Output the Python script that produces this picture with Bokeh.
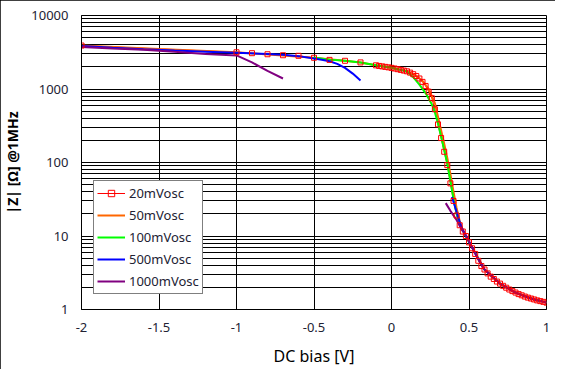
from bokeh.plotting import figure
from bokeh.models import FixedTicker, NumeralTickFormatter, InlineStyleSheet
from bokeh.embed import file_html
from bokeh.resources import INLINE
import numpy as np

# ---- data ----
x_ticks = [-2, -1.5, -1, -0.5, 0, 0.5, 1]
x_tick_labels = ["-2", "-1.5", "-1", "-0.5", "0", "0.5", "1"]
y_ticks = [1, 10, 100, 1000, 10000]
y_tick_labels = ["1", "10", "100", "1000", "10000"]

series_names = ["20mVosc", "50mVosc", "100mVosc", "500mVosc", "1000mVosc"]

v20_x = [-2.0, -1.0, -0.9, -0.8, -0.7, -0.6, -0.5, -0.4, -0.3, -0.2, -0.1,
         -0.08, -0.06, -0.04, -0.02, 0.00, 0.02, 0.04, 0.06, 0.08, 0.10,
         0.12, 0.14, 0.16, 0.18, 0.20, 0.22, 0.24, 0.26, 0.28, 0.30,
         0.32, 0.34, 0.36, 0.38, 0.40, 0.42, 0.44, 0.46, 0.48, 0.50,
         0.52, 0.54, 0.56, 0.58, 0.60, 0.62, 0.64, 0.66, 0.68, 0.70,
         0.72, 0.74, 0.76, 0.78, 0.80, 0.82, 0.84, 0.86, 0.88, 0.90,
         0.92, 0.94, 0.96, 0.98, 1.00]
v20_z = [3900, 3160, 3070, 2970, 2880, 2830, 2660, 2490, 2420, 2300, 2100,
         2060, 2030, 2000, 1970, 1940, 1900, 1860, 1820, 1780, 1740,
         1670, 1590, 1500, 1390, 1250, 1100, 920, 750, 530, 330,
         215, 140, 92, 52, 30, 19, 14, 11.5, 10, 8.2,
         6.8, 5.7, 4.6, 3.9, 3.5, 3.1, 2.8, 2.6, 2.4, 2.25,
         2.1, 1.98, 1.87, 1.78, 1.7, 1.62, 1.56, 1.5, 1.45, 1.41,
         1.37, 1.33, 1.3, 1.27, 1.24]

v50_x = [-2.0, -1.5, -1.0, -0.5, -0.3, -0.2, -0.1, 0.0, 0.1, 0.15, 0.2, 0.24,
         0.28, 0.3, 0.32, 0.34, 0.36, 0.38, 0.4, 0.42, 0.44, 0.46, 0.5, 0.55,
         0.6, 0.7, 0.8, 0.9, 1.0]
v50_z = [3900, 3500, 3160, 2660, 2420, 2300, 2100, 1950, 1750, 1560, 1290, 1000,
         640, 420, 275, 180, 115, 70, 40, 24, 16, 12, 8.4, 5.4,
         3.5, 2.25, 1.7, 1.41, 1.24]

v100_x = [-0.5, -0.4, -0.3, -0.2, -0.1, 0.0, 0.1, 0.14, 0.18, 0.22, 0.26, 0.28,
          0.3, 0.32, 0.34, 0.36, 0.38, 0.4, 0.42, 0.45, 0.5, 0.6, 0.7, 0.8, 0.9, 1.0]
v100_z = [2680, 2510, 2420, 2300, 2110, 1940, 1730, 1450, 1150, 880, 620, 480,
          340, 225, 148, 96, 56, 32, 20, 13, 8.3, 3.5, 2.25, 1.7, 1.41, 1.24]

v500_x = [-2.0, -1.8, -1.6, -1.4, -1.2, -1.0, -0.8, -0.7, -0.6, -0.5, -0.45, -0.4,
          -0.35, -0.3, -0.25, -0.2, float("nan"),
          0.39, 0.41, 0.43, 0.45, 0.47, 0.5, 0.55, 0.6, 0.7, 0.8, 0.9, 1.0]
v500_z = [3850, 3650, 3480, 3340, 3220, 3110, 2990, 2920, 2800, 2600, 2500, 2390,
          2200, 1940, 1620, 1310, float("nan"),
          34, 25, 18, 13.5, 11, 8.4, 5.3, 3.5, 2.25, 1.7, 1.41, 1.24]

v1000_x = [-2.0, -1.8, -1.6, -1.4, -1.2, -1.0, -0.9, -0.8, -0.7, float("nan"),
           0.35, 0.38, 0.42, 0.45, 0.48, 0.5, 0.55, 0.6, 0.7, 0.8, 0.9, 1.0]
v1000_z = [3720, 3560, 3420, 3200, 3000, 2860, 2300, 1760, 1390, float("nan"),
           28, 22, 16.5, 12.5, 10.2, 8.4, 5.3, 3.5, 2.25, 1.7, 1.41, 1.24]

colors = ["#FF0000", "#FF6600", "#00FF00", "#0000FF", "#800080"]

FONT = "Noto Sans"
TXT = "#222233"

W, H = 555, 369
BL, BR, BT, BB = 72, 9, 15, 58

p = figure(width=W, height=H, x_range=(-2, 1), y_range=(1, 10000),
           y_axis_type="log", output_backend="svg", toolbar_location=None,
           min_border_left=BL, min_border_right=BR, min_border_top=BT,
           min_border_bottom=BB)
p.stylesheets = [InlineStyleSheet(css=":host { outline: 1px solid black; outline-offset: -1px; }")]
p.outline_line_color = "black"
p.background_fill_color = "white"
p.border_fill_color = "white"

# axes
p.xaxis.ticker = FixedTicker(ticks=x_ticks)
p.xaxis.major_label_overrides = {t: l for t, l in zip(x_ticks, x_tick_labels)}
p.yaxis.ticker = FixedTicker(ticks=y_ticks,
                             minor_ticks=[m * d for d in [1, 10, 100, 1000] for m in range(2, 10)])
p.yaxis.formatter = NumeralTickFormatter(format="0")
for ax in (p.xaxis, p.yaxis):
    ax.major_tick_out = 0
    ax.major_tick_in = 0
    ax.minor_tick_out = 0
    ax.minor_tick_in = 0
    ax.axis_line_color = "black"
    ax.major_label_text_font = FONT
    ax.major_label_text_font_size = "13px"
    ax.major_label_text_color = TXT
    ax.major_label_standoff = 13
    ax.axis_label_text_font = FONT
    ax.axis_label_text_color = "black"

p.xaxis.axis_label = "DC bias [V]"
p.xaxis.axis_label_text_font_size = "16px"
p.xaxis.axis_label_text_font_style = "normal"
p.xaxis.axis_label_standoff = 10
p.yaxis.axis_label = "|Z| [Ω] @1MHz"
p.yaxis.axis_label_text_font_size = "14px"
p.yaxis.axis_label_text_font_style = "bold"
p.yaxis.axis_label_standoff = 6

p.xgrid.grid_line_color = "black"
p.xgrid.grid_line_alpha = 1
p.ygrid.grid_line_color = "black"
p.ygrid.minor_grid_line_color = "black"

# lines
xs = [v20_x, v50_x, v100_x, v500_x, v1000_x]
zs = [v20_z, v50_z, v100_z, v500_z, v1000_z]
widths = [1, 2, 2, 2, 2]
for x, z, c, w, n in zip(xs, zs, colors, widths, series_names):
    p.line(np.array(x), np.array(z), line_color=c, line_width=w, legend_label=n)

p.scatter(v20_x, v20_z, marker="square", size=5, line_color="#FF0000",
          fill_color=None, line_width=1, legend_label=series_names[0])

leg = p.legend[0]
leg.location = (12, 15)
leg.border_line_color = "black"
leg.border_line_width = 1
leg.background_fill_color = "white"
leg.background_fill_alpha = 1
leg.label_text_font = FONT
leg.label_text_font_size = "13px"
leg.label_text_color = TXT
leg.glyph_width = 28
leg.glyph_height = 16
leg.label_height = 16
leg.label_standoff = 4
leg.spacing = 4
leg.padding = 3
leg.margin = 0

open("out.html", "w").write(file_html(p, INLINE))
